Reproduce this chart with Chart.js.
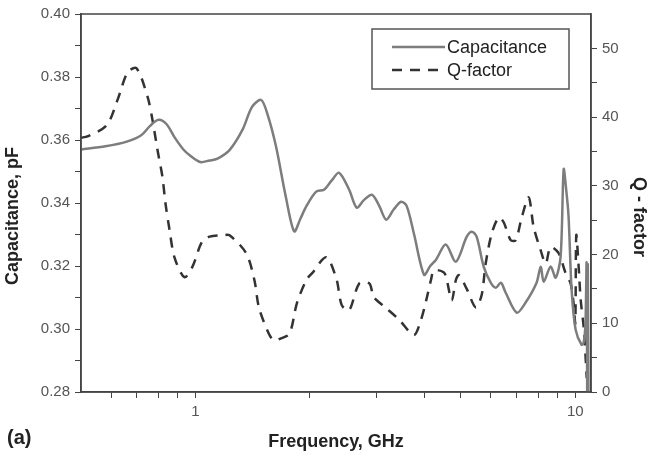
<!DOCTYPE html>
<html>
<head>
<meta charset="utf-8">
<script src="https://cdn.jsdelivr.net/npm/chart.js@4"></script>
<style>
  html, body { margin: 0; padding: 0; background: #fff; }
  #wrap { width: 649px; height: 457px; }
</style>
</head>
<body>
<div id="wrap"><canvas id="chart"></canvas></div>
<script>
// capacitance (pF) vs frequency (GHz)
const capFreq = [0.5, 0.58, 0.66, 0.72, 0.76, 0.80, 0.84, 0.88, 0.93, 0.97, 1.03, 1.09, 1.14, 1.23, 1.33, 1.41, 1.49, 1.55, 1.63, 1.73,
  1.82, 1.89, 1.96, 2.08, 2.18, 2.28, 2.39, 2.54, 2.66, 2.78, 2.92, 3.05, 3.18, 3.33, 3.48, 3.6, 3.76, 4.0, 4.15, 4.3,
  4.56, 4.85, 5.18, 5.34, 5.5, 5.74, 5.99, 6.18, 6.37, 6.56, 7.01, 7.40, 7.91, 8.11, 8.26, 8.61, 8.88, 9.15, 9.32, 9.45,
  9.6, 9.78, 10.02, 10.39, 10.52, 10.64, 10.71, 10.75, 10.79, 10.83];
const capValues = [0.357, 0.358, 0.3595, 0.3615, 0.3645, 0.3664, 0.365, 0.361, 0.357, 0.355, 0.353, 0.3535, 0.354, 0.3568, 0.3632, 0.3705, 0.3727, 0.368, 0.358, 0.342,
  0.331, 0.335, 0.339, 0.3436, 0.3442, 0.347, 0.3496, 0.3442, 0.3385, 0.341, 0.3426, 0.339, 0.3347, 0.338, 0.3404, 0.339, 0.3303, 0.3172, 0.320, 0.322,
  0.3268, 0.3214, 0.3293, 0.3309, 0.3293, 0.3198, 0.3147, 0.3131, 0.3147, 0.3115, 0.3052, 0.3084, 0.3147, 0.3198, 0.315, 0.3198, 0.3163, 0.323, 0.3507, 0.345,
  0.3358, 0.3125, 0.2998, 0.295, 0.2957, 0.302, 0.321, 0.28, 0.3205, 0.28];

// Q-factor vs frequency (GHz)
const qFreq = [0.5, 0.52, 0.584, 0.624, 0.663, 0.70, 0.748, 0.771, 0.795, 0.819, 0.834, 0.855, 0.881, 0.936, 0.982, 1.04, 1.09, 1.18, 1.23, 1.36,
  1.43, 1.47, 1.56, 1.61, 1.68, 1.77, 1.85, 1.96, 2.03, 2.21, 2.35, 2.43, 2.54, 2.70, 2.87, 2.95, 3.18, 3.44, 3.76, 3.92,
  4.05, 4.17, 4.25, 4.51, 4.59, 4.73, 4.85, 4.94, 5.18, 5.47, 5.67, 5.81, 6.03, 6.29, 6.48, 6.76, 6.97, 7.23, 7.54, 7.77,
  8.11, 8.36, 8.61, 9.04, 9.43, 9.72, 9.90, 10.0, 10.06, 10.2, 10.33, 10.52, 10.64, 10.72];
const qValues = [37, 37.2, 38.8, 42.5, 46.5, 47.1, 43, 39.6, 35.2, 31.3, 27.5, 23.6, 19.6, 16.7, 18.2, 21.8, 22.6, 22.8, 22.8, 20.2,
  16.3, 12.3, 8.5, 7.5, 7.8, 8.5, 12.9, 16.3, 17.3, 19.6, 16.5, 12.6, 11.9, 15.8, 15.8, 13.8, 12.2, 10.5, 8.3, 10.4,
  13.3, 16.3, 17.7, 17.4, 16.3, 13.3, 16.3, 17.0, 15.0, 12.3, 14.1, 18.7, 23.1, 25.4, 24.7, 22.1, 22.1, 25.4, 28.3, 24.0,
  20.6, 18.7, 21.1, 20.2, 17.3, 15.8, 12.9, 10.0, 22.8, 18.5, 13.5, 9.5, 5.3, 2];

const xTicks = [0.6, 0.7, 0.8, 0.9, 1, 2, 3, 4, 5, 6, 7, 8, 9, 10];
const xLabels = [1, 10];
const capTicks = [0.28, 0.29, 0.30, 0.31, 0.32, 0.33, 0.34, 0.35, 0.36, 0.37, 0.38, 0.39, 0.40];
const capLabels = ['0.28', '0.30', '0.32', '0.34', '0.36', '0.38', '0.40'];
const qTicks = [0, 5, 10, 15, 20, 25, 30, 35, 40, 45, 50];
const qLabels = [0, 10, 20, 30, 40, 50];

const axisColor = '#444';
const tickFont = { family: 'Liberation Sans, Arial, sans-serif', size: 15 };
const titleFont = { family: 'Liberation Sans, Arial, sans-serif', size: 18, weight: 'bold' };

function pts(xs, ys) {
  return xs.map((x, i) => ({ x: x, y: ys[i] }));
}

function vText(ctx, text, x, y, angle) {
  ctx.save();
  ctx.translate(x, y);
  ctx.rotate(angle);
  ctx.font = 'bold 18px Liberation Sans, Arial, sans-serif';
  ctx.textAlign = 'center';
  ctx.textBaseline = 'middle';
  ctx.fillStyle = '#222';
  ctx.fillText(text, 0, 0);
  ctx.restore();
}

// frame, boxed legend, y titles and panel label
const extras = {
  id: 'extras',
  afterDraw(chart) {
    const ctx = chart.ctx;
    const a = chart.chartArea;
    ctx.save();
    ctx.strokeStyle = axisColor;
    ctx.lineWidth = 1.5;
    ctx.strokeRect(a.left, a.top, a.right - a.left, a.bottom - a.top);

    // legend box
    ctx.strokeStyle = '#555';
    ctx.lineWidth = 1.5;
    ctx.strokeRect(372, 29, 197, 60);
    ctx.font = '18px Liberation Sans, Arial, sans-serif';
    ctx.textBaseline = 'middle';
    ctx.fillStyle = '#222';
    const rows = [47, 70];
    chart.data.datasets.forEach((ds, i) => {
      ctx.beginPath();
      ctx.strokeStyle = ds.borderColor;
      ctx.lineWidth = ds.borderWidth;
      ctx.setLineDash(ds.borderDash || []);
      ctx.moveTo(392, rows[i]);
      ctx.lineTo(i === 0 ? 445 : 440, rows[i]);
      ctx.stroke();
      ctx.setLineDash([]);
      ctx.fillText(ds.label, 447, rows[i] + 1);
    });

    vText(ctx, 'Capacitance, pF', 13, 216, -Math.PI / 2);
    vText(ctx, 'Q - factor', 639, 217, Math.PI / 2);

    // panel label
    ctx.font = 'bold 20px Liberation Sans, Arial, sans-serif';
    ctx.textAlign = 'left';
    ctx.textBaseline = 'middle';
    ctx.fillStyle = '#222';
    ctx.fillText('(a)', 7, 438);
    ctx.restore();
  }
};

new Chart(document.getElementById('chart'), {
  type: 'line',
  data: {
    datasets: [
      {
        label: 'Capacitance',
        data: pts(capFreq, capValues),
        yAxisID: 'y',
        borderColor: '#7d7d7d',
        borderWidth: 2.5,
        pointRadius: 0,
        tension: 0.3,
        fill: false
      },
      {
        label: 'Q-factor',
        data: pts(qFreq, qValues),
        yAxisID: 'y1',
        borderColor: '#333',
        borderWidth: 2.5,
        borderDash: [10, 8],
        pointRadius: 0,
        tension: 0.3,
        fill: false
      }
    ]
  },
  options: {
    responsive: true,
    maintainAspectRatio: false,
    animation: false,
    layout: { padding: { top: 14, left: 0, right: 0, bottom: 0 } },
    plugins: { legend: { display: false }, tooltip: { enabled: false } },
    scales: {
      x: {
        type: 'logarithmic',
        min: 0.5,
        max: 11,
        afterBuildTicks: s => { s.ticks = xTicks.map(v => ({ value: v })); },
        afterFit: s => { s.height = 65; },
        border: { display: true, color: axisColor, width: 1.5 },
        grid: { drawOnChartArea: false, drawTicks: true, tickLength: 6, color: axisColor },
        ticks: {
          autoSkip: false,
          maxRotation: 0,
          padding: 5,
          color: '#555',
          font: tickFont,
          callback: v => xLabels.includes(v) ? String(v) : ''
        },
        title: { display: true, text: 'Frequency, GHz', color: '#222', font: titleFont, padding: { top: 0, bottom: 4 } }
      },
      y: {
        position: 'left',
        min: 0.28,
        max: 0.40,
        afterBuildTicks: s => { s.ticks = capTicks.map(v => ({ value: v })); },
        afterFit: s => { s.width = 81; },
        border: { display: true, color: axisColor, width: 1.5 },
        grid: { drawOnChartArea: false, drawTicks: true, tickLength: 6, color: axisColor },
        ticks: {
          autoSkip: false,
          padding: 5,
          color: '#555',
          font: tickFont,
          callback: v => { const t = v.toFixed(2); return capLabels.includes(t) ? t : ''; }
        }
      },
      y1: {
        position: 'right',
        min: 0,
        max: 55,
        afterBuildTicks: s => { s.ticks = qTicks.map(v => ({ value: v })); },
        afterFit: s => { s.width = 58; },
        border: { display: true, color: axisColor, width: 1.5 },
        grid: { drawOnChartArea: false, drawTicks: true, tickLength: 6, color: axisColor },
        ticks: {
          autoSkip: false,
          padding: 5,
          color: '#555',
          font: tickFont,
          callback: v => qLabels.includes(v) ? String(v) : ''
        }
      }
    }
  },
  plugins: [extras]
});
</script>
</body>
</html>
